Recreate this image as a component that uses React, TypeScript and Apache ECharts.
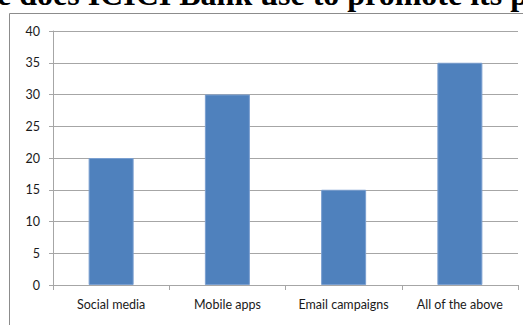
import React, { useEffect, useRef } from "react";
import * as echarts from "echarts";

const categories = ["Social media", "Mobile apps", "Email campaigns", "All of the above"];
const values = [20, 30, 15, 35];
const yTicks = [0, 5, 10, 15, 20, 25, 30, 35, 40];
const titleText = "e does ICICI Bank use to promote its p";

export default function App() {
  const ref = useRef<HTMLDivElement>(null);
  useEffect(() => {
    document.body.style.margin = "0";
    const chart = echarts.init(ref.current!, null, { renderer: "svg" });
    chart.setOption({
      animation: false,
      backgroundColor: "#ffffff",
      grid: { left: 53, top: 31, right: 5, bottom: 40, containLabel: false },
      graphic: [
        {
          type: "rect",
          shape: { x: 9.5, y: 13.5, width: 600, height: 400 },
          style: { fill: "none", stroke: "#8c8c8c", lineWidth: 1 },
          silent: true,
        },
        {
          type: "text",
          x: -3,
          y: 10,
          style: {
            text: titleText,
            font: "bold 32px 'Liberation Serif', serif",
            fill: "#000000",
            verticalAlign: "bottom",
            align: "left",
          },
        },
      ],
      xAxis: {
        type: "category",
        data: categories,
        boundaryGap: true,
        axisLine: { show: true, lineStyle: { color: "#a6a6a6", width: 1 } },
        axisTick: { show: true, length: 5, alignWithLabel: false, lineStyle: { color: "#a6a6a6" } },
        axisLabel: {
          margin: 13,
          color: "#1a1a1a",
          fontSize: 12.5,
          fontFamily: "Lato, 'Open Sans', sans-serif",
          interval: 0,
        },
        splitLine: { show: false },
      },
      yAxis: {
        type: "value",
        min: yTicks[0],
        max: yTicks[yTicks.length - 1],
        interval: 5,
        axisLine: { show: true, lineStyle: { color: "#a6a6a6", width: 1 } },
        axisTick: { show: true, length: 4, lineStyle: { color: "#a6a6a6" } },
        axisLabel: {
          margin: 13,
          color: "#1a1a1a",
          fontSize: 12.5,
          fontFamily: "Lato, 'Open Sans', sans-serif",
        },
        splitLine: { show: true, lineStyle: { color: "#a6a6a6", width: 1 } },
      },
      series: [
        {
          type: "bar",
          data: values,
          barWidth: 45,
          itemStyle: { color: "#4f81bd", borderColor: "#7a9fd0", borderWidth: 1 },
        },
      ],
    });
    return () => chart.dispose();
  }, []);
  return <div ref={ref} style={{ position: "fixed", left: 0, top: 0, width: 523, height: 325 }} />;
}
